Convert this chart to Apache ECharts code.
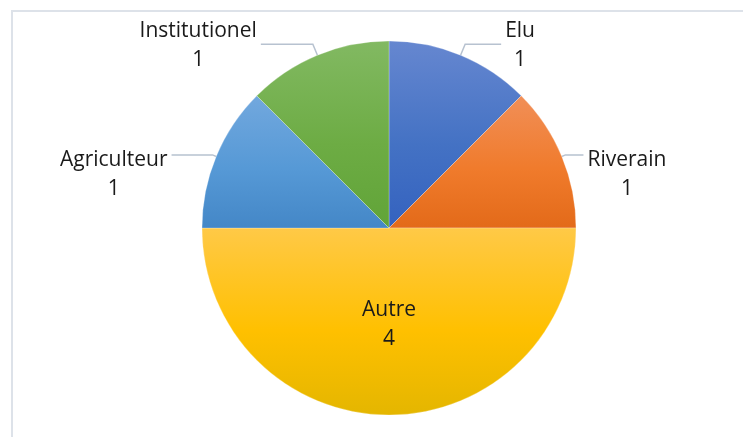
<!DOCTYPE html>
<html>
<head>
<meta charset="utf-8">
<title>Répartition</title>
<script src="https://cdn.jsdelivr.net/npm/echarts@6/dist/echarts.min.js"></script>
<style>
  html, body { margin: 0; padding: 0; background: #fff; }
  #chart { width: 743px; height: 437px; }
</style>
</head>
<body>
<div id="chart"></div>
<script>
// données (sens horaire depuis midi)
const categories = ['Elu', 'Riverain', 'Autre', 'Agriculteur', 'Institutionel']
const values = [1, 1, 4, 1, 1]

// dégradés clair -> base -> foncé pour chaque part
const palette = [
  ['#6687d0', '#4472c4', '#3462bf'],
  ['#f18f58', '#f07b2c', '#e36a19'],
  ['#ffc947', '#ffc000', '#e4b600'],
  ['#72a8de', '#5699d6', '#4487c7'],
  ['#82b962', '#6dac44', '#61a438']
]

// réglages des étiquettes extérieures (style uniquement)
const labelCfg = [
  { len: 12, len2: 36, pad: [3, 0, 0, 0] },
  { len: 4, len2: 18, pad: [40, 0, 0, 0] },
  null,
  { len: 4, len2: 41, pad: [40, 0, 0, 0] },
  { len: 12, len2: 52, pad: [3, 0, 0, 0] }
]

const chart = echarts.init(document.getElementById('chart'))

const grad = (c) => new echarts.graphic.LinearGradient(0, 0, 0, 1, [
  { offset: 0, color: c[0] },
  { offset: 0.55, color: c[1] },
  { offset: 1, color: c[2] }
])

const seriesData = categories.map((name, i) => {
  const item = {
    name,
    value: values[i],
    itemStyle: { color: grad(palette[i]) }
  }
  if (labelCfg[i]) {
    item.labelLine = { length: labelCfg[i].len, length2: labelCfg[i].len2 }
    item.label = { padding: labelCfg[i].pad }
  } else {
    item.label = { position: 'inside' }
    item.labelLine = { show: false }
  }
  return item
})

chart.setOption({
  backgroundColor: '#fff',
  animation: false,
  graphic: [{
    type: 'polyline',
    silent: true,
    shape: { points: [[12, 437], [12, 11], [743, 11]] },
    style: { stroke: '#dde2e9', lineWidth: 2, fill: null }
  }],
  series: [{
    type: 'pie',
    center: [389, 228],
    radius: 187,
    startAngle: 90,
    clockwise: true,
    avoidLabelOverlap: false,
    data: seriesData,
    itemStyle: { borderColor: 'rgba(255,255,255,0.5)', borderWidth: 0.5 },
    label: {
      show: true,
      formatter: '{t|{b}}\n{t|{c}}',
      distanceToLabelLine: 4,
      rich: {
        t: {
          fontFamily: 'Open Sans',
          fontSize: 21,
          lineHeight: 29,
          color: '#1a1a1a',
          align: 'center'
        }
      }
    },
    labelLine: {
      show: true,
      smooth: false,
      lineStyle: { color: '#b7c2d0', width: 1.5 }
    }
  }]
})

window.addEventListener('resize', () => chart.resize())
</script>
</body>
</html>
